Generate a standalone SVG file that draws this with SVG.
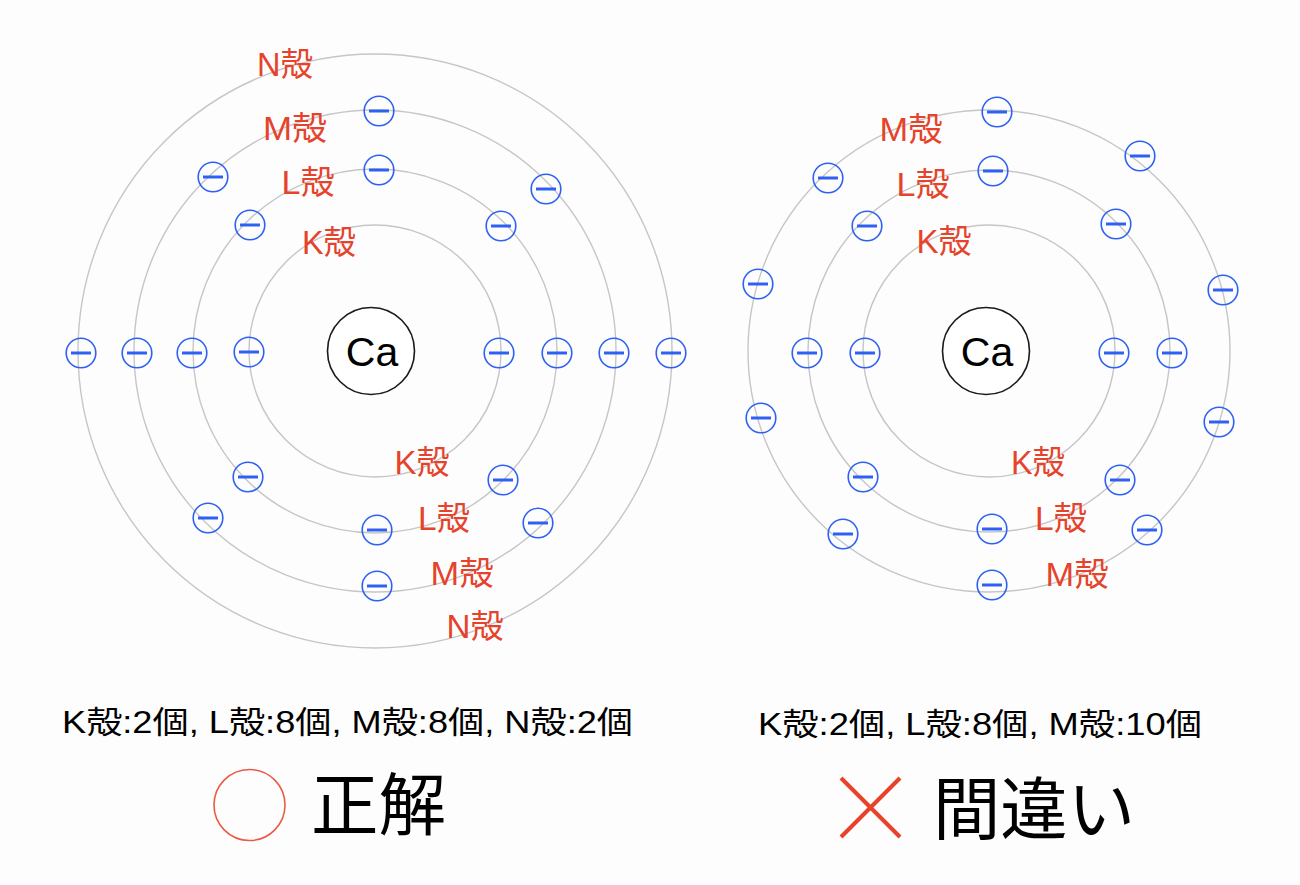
<svg xmlns="http://www.w3.org/2000/svg" xmlns:xlink="http://www.w3.org/1999/xlink" width="1300" height="885" viewBox="0 0 1300 885">
<style>
.orbit{fill:none;stroke:#c6c6c6;stroke-width:1.4}
.nuc{fill:#ffffff;stroke:#1a1a1a;stroke-width:1.6}
.nuct{font-family:"Liberation Sans","Noto Sans CJK JP",sans-serif;font-size:41px;fill:#000;text-anchor:middle}
.lbl{font-family:"Liberation Sans","Noto Sans CJK JP",sans-serif;font-size:33px;fill:#e5432b;text-anchor:middle}
.cnt{font-family:"Liberation Sans","Noto Sans CJK JP",sans-serif;font-size:31px;fill:#000;text-anchor:middle}
.big{font-family:"Noto Sans CJK JP",sans-serif;font-size:68px;fill:#000;text-anchor:middle}
</style>
<defs>
<g id="electron">
<circle r="14.8" fill="none" stroke="#2e60f2" stroke-width="1.6"/>
<line x1="-10" y1="0" x2="10" y2="0" stroke="#2e60f2" stroke-width="3"/>
</g>
</defs>
<rect width="1300" height="885" fill="#fdfdfd"/>

<g id="orbits">
<circle class="orbit" cx="375" cy="351" r="126"/>
<circle class="orbit" cx="375" cy="351" r="182"/>
<circle class="orbit" cx="375" cy="351" r="241"/>
<circle class="orbit" cx="375" cy="351" r="297"/>
<circle class="orbit" cx="989" cy="351" r="126"/>
<circle class="orbit" cx="989" cy="351" r="181"/>
<circle class="orbit" cx="989" cy="351" r="241"/>
</g>

<g id="left-nucleus">
<circle class="nuc" cx="371" cy="351" r="43.5"/>
<text class="nuct" x="372" y="366">Ca</text>
</g>
<g id="right-nucleus">
<circle class="nuc" cx="986" cy="351" r="43.5"/>
<text class="nuct" x="987" y="366">Ca</text>
</g>

<g id="left-electrons">
<g id="lK1"><use xlink:href="#electron" x="249" y="352"/></g>
<g id="lK2"><use xlink:href="#electron" x="499" y="353"/></g>
<g id="lL1"><use xlink:href="#electron" x="192" y="353"/></g>
<g id="lL2"><use xlink:href="#electron" x="557" y="353"/></g>
<g id="lL3"><use xlink:href="#electron" x="379" y="170"/></g>
<g id="lL4"><use xlink:href="#electron" x="250" y="225"/></g>
<g id="lL5"><use xlink:href="#electron" x="501" y="226"/></g>
<g id="lL6"><use xlink:href="#electron" x="377" y="530"/></g>
<g id="lL7"><use xlink:href="#electron" x="248" y="477"/></g>
<g id="lL8"><use xlink:href="#electron" x="503" y="480"/></g>
<g id="lM1"><use xlink:href="#electron" x="137" y="353"/></g>
<g id="lM2"><use xlink:href="#electron" x="614" y="353"/></g>
<g id="lM3"><use xlink:href="#electron" x="379" y="111"/></g>
<g id="lM4"><use xlink:href="#electron" x="213" y="177"/></g>
<g id="lM5"><use xlink:href="#electron" x="546" y="189"/></g>
<g id="lM6"><use xlink:href="#electron" x="208" y="518"/></g>
<g id="lM7"><use xlink:href="#electron" x="538" y="523"/></g>
<g id="lM8"><use xlink:href="#electron" x="377" y="586"/></g>
<g id="lN1"><use xlink:href="#electron" x="81" y="353"/></g>
<g id="lN2"><use xlink:href="#electron" x="671" y="353"/></g>
</g>

<g id="right-electrons">
<g id="rK1"><use xlink:href="#electron" x="865" y="353"/></g>
<g id="rK2"><use xlink:href="#electron" x="1114" y="353"/></g>
<g id="rL1"><use xlink:href="#electron" x="807" y="353"/></g>
<g id="rL2"><use xlink:href="#electron" x="1172" y="353"/></g>
<g id="rL3"><use xlink:href="#electron" x="993" y="171"/></g>
<g id="rL4"><use xlink:href="#electron" x="867" y="226"/></g>
<g id="rL5"><use xlink:href="#electron" x="1116" y="224"/></g>
<g id="rL6"><use xlink:href="#electron" x="992" y="529"/></g>
<g id="rL7"><use xlink:href="#electron" x="863" y="477"/></g>
<g id="rL8"><use xlink:href="#electron" x="1120" y="480"/></g>
<g id="rM1"><use xlink:href="#electron" x="997" y="112"/></g>
<g id="rM2"><use xlink:href="#electron" x="1140" y="156"/></g>
<g id="rM3"><use xlink:href="#electron" x="828" y="178"/></g>
<g id="rM4"><use xlink:href="#electron" x="758" y="284"/></g>
<g id="rM5"><use xlink:href="#electron" x="1223" y="290"/></g>
<g id="rM6"><use xlink:href="#electron" x="761" y="418"/></g>
<g id="rM7"><use xlink:href="#electron" x="1219" y="422"/></g>
<g id="rM8"><use xlink:href="#electron" x="843" y="534"/></g>
<g id="rM9"><use xlink:href="#electron" x="1147" y="530"/></g>
<g id="rM10"><use xlink:href="#electron" x="992" y="585"/></g>
</g>

<g id="left-labels">
<text class="lbl" x="285" y="76" textLength="56" lengthAdjust="spacingAndGlyphs">N殻</text>
<text class="lbl" x="295" y="140" textLength="64" lengthAdjust="spacingAndGlyphs">M殻</text>
<text class="lbl" x="308" y="194" textLength="53" lengthAdjust="spacingAndGlyphs">L殻</text>
<text class="lbl" x="329" y="254" textLength="54" lengthAdjust="spacingAndGlyphs">K殻</text>
<text class="lbl" x="422" y="474" textLength="55" lengthAdjust="spacingAndGlyphs">K殻</text>
<text class="lbl" x="444" y="530" textLength="52" lengthAdjust="spacingAndGlyphs">L殻</text>
<text class="lbl" x="462" y="585" textLength="63" lengthAdjust="spacingAndGlyphs">M殻</text>
<text class="lbl" x="475" y="638" textLength="57" lengthAdjust="spacingAndGlyphs">N殻</text>
</g>

<g id="right-labels">
<text class="lbl" x="911" y="141" textLength="63" lengthAdjust="spacingAndGlyphs">M殻</text>
<text class="lbl" x="923" y="196" textLength="53" lengthAdjust="spacingAndGlyphs">L殻</text>
<text class="lbl" x="944" y="253" textLength="55" lengthAdjust="spacingAndGlyphs">K殻</text>
<text class="lbl" x="1038" y="474" textLength="54" lengthAdjust="spacingAndGlyphs">K殻</text>
<text class="lbl" x="1061" y="530" textLength="52" lengthAdjust="spacingAndGlyphs">L殻</text>
<text class="lbl" x="1077" y="586" textLength="63" lengthAdjust="spacingAndGlyphs">M殻</text>
</g>

<g id="left-caption">
<text class="cnt" x="347.5" y="733" textLength="571" lengthAdjust="spacingAndGlyphs">K殻:2個, L殻:8個, M殻:8個, N殻:2個</text>
<circle cx="249.5" cy="805" r="35.5" fill="none" stroke="#ea5a45" stroke-width="1.6"/>
<text class="big" x="378.5" y="830" textLength="135" lengthAdjust="spacingAndGlyphs">正解</text>
</g>

<g id="right-caption">
<text class="cnt" x="980" y="735" textLength="444" lengthAdjust="spacingAndGlyphs">K殻:2個, L殻:8個, M殻:10個</text>
<line x1="841" y1="778" x2="900" y2="837" stroke="#e8432a" stroke-width="4"/>
<line x1="900" y1="778" x2="841" y2="837" stroke="#e8432a" stroke-width="4"/>
<text class="big" x="1034" y="834" font-size="67" textLength="202" lengthAdjust="spacingAndGlyphs">間違い</text>
</g>
</svg>
